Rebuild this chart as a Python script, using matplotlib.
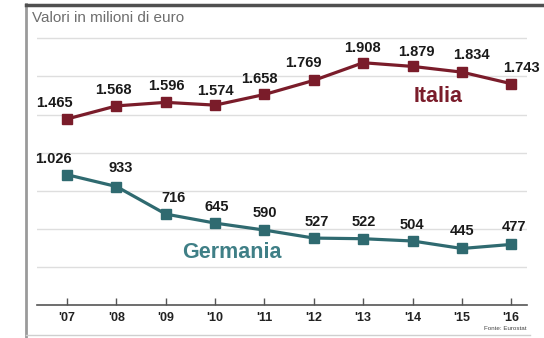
import matplotlib
matplotlib.use("Agg")
import matplotlib.pyplot as plt
from matplotlib.lines import Line2D

# --- data -------------------------------------------------------------
years = ["'07", "'08", "'09", "'10", "'11", "'12", "'13", "'14", "'15", "'16"]
italia = [1465, 1568, 1596, 1574, 1658, 1769, 1908, 1879, 1834, 1743]
germania = [1026, 933, 716, 645, 590, 527, 522, 504, 445, 477]
italia_labels = ["1.465", "1.568", "1.596", "1.574", "1.658",
                 "1.769", "1.908", "1.879", "1.834", "1.743"]
germania_labels = ["1.026", "933", "716", "645", "590",
                   "527", "522", "504", "445", "477"]

# label offsets (pixels: right, up)
it_off = [(-13, 16), (-3, 16), (1, 16), (0, 14), (-5, 15),
          (-10, 17), (-1, 15), (4, 14), (10, 17), (10, 16)]
de_off = [(-14, 16), (4, 19), (8, 16), (2, 16), (0, 17),
          (3, 16), (1, 17), (-1, 16), (0, 17), (3, 17)]

RED = "#7a1c2a"
TEAL = "#2f6a70"
TEAL_TXT = "#3f7f86"
FONT = ["Liberation Sans", "DejaVu Sans"]

W, H = 544, 338
fig = plt.figure(figsize=(W / 100, H / 100), dpi=100)
fig.patch.set_facecolor("white")

# plot area in pixel coordinates
left, right, top, bottom = 37, 527, 32, 305
ax = fig.add_axes([left / W, (H - bottom) / H, (right - left) / W, (bottom - top) / H])
ax.set_facecolor("none")

x = list(range(len(years)))
ax.set_xlim(-0.61, 9.32)
ax.set_ylim(0, 2150)

for g in range(300, 2101, 300):
    ax.axhline(g, color="#dedede", lw=1.0, zorder=0)

ax.plot(x, italia, color=RED, lw=2.3, marker="s", ms=7, mfc=RED, mec=RED, zorder=3)
ax.plot(x, germania, color=TEAL, lw=2.3, marker="s", ms=7, mfc=TEAL, mec=TEAL, zorder=3)

px = 72 / 100  # pixels -> points
for xi, v, lab, (dx, dy) in zip(x, italia, italia_labels, it_off):
    ax.annotate(lab, (xi, v), xytext=(dx * px, dy * px), textcoords="offset points",
                ha="center", va="center", fontsize=10.5, fontweight="bold",
                family=FONT, color="#1a1a1a")
for xi, v, lab, (dx, dy) in zip(x, germania, germania_labels, de_off):
    ax.annotate(lab, (xi, v), xytext=(dx * px, dy * px), textcoords="offset points",
                ha="center", va="center", fontsize=10.5, fontweight="bold",
                family=FONT, color="#1a1a1a")

ax.text(7.52, 1640, "Italia", color=RED, fontsize=15.5, fontweight="bold",
        family=FONT, ha="center", va="center")
ax.text(3.34, 410, "Germania", color=TEAL_TXT, fontsize=15.5, fontweight="bold",
        family=FONT, ha="center", va="center")

# axes styling
for s in ["top", "right", "left"]:
    ax.spines[s].set_visible(False)
ax.spines["bottom"].set_color("#555555")
ax.spines["bottom"].set_linewidth(1.2)
ax.set_yticks([])
ax.set_xticks(x)
ax.set_xticklabels(years, family=FONT, fontweight="bold", fontsize=9, color="#222222")
ax.tick_params(axis="x", direction="in", length=5, width=1, color="#555555", pad=5)

# title and source
fig.text(32 / W, 1 - 18 / H, "Valori in milioni di euro", family=FONT,
         fontsize=11, color="#6e6e6e", ha="left", va="center")
fig.text(527 / W, 1 - 328 / H, "Fonte: Eurostat", family=FONT,
         fontsize=4.5, color="#444444", ha="right", va="center")

# frame around the graphic
fig.add_artist(Line2D([26 / W, 26 / W], [0, 1 - 4 / H], transform=fig.transFigure,
                      color="#9a9a9a", lw=2))
fig.add_artist(Line2D([26 / W, 1], [1 - 5 / H, 1 - 5 / H], transform=fig.transFigure,
                      color="#505050", lw=2.5))
fig.add_artist(Line2D([26 / W, 530 / W], [1 - 335 / H, 1 - 335 / H], transform=fig.transFigure,
                      color="#cfcfcf", lw=1))

fig.savefig("out.png", dpi=100, facecolor="white")
